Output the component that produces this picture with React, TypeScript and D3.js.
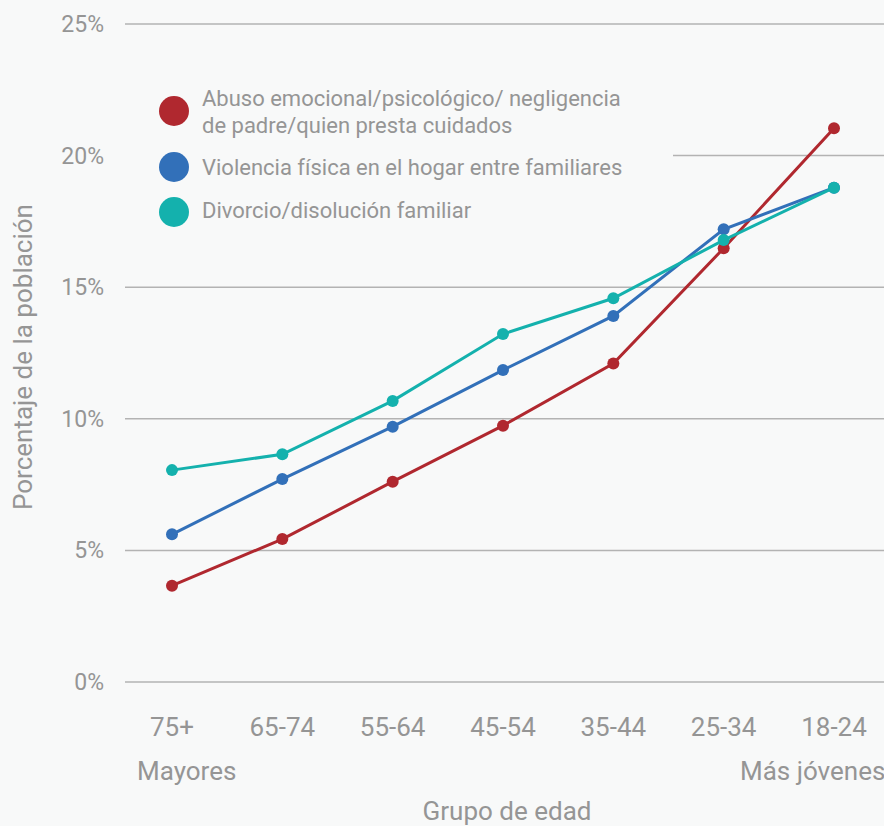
import React from "react";
import * as d3 from "d3";

const ageGroups = ["75+", "65-74", "55-64", "45-54", "35-44", "25-34", "18-24"];
const abuseValues = [3.66, 5.43, 7.61, 9.74, 12.1, 16.48, 21.04];
const violenceValues = [5.61, 7.71, 9.7, 11.85, 13.91, 17.2, 18.78];
const divorceValues = [8.05, 8.65, 10.68, 13.22, 14.58, 16.79, 18.78];
const yTicks = [0, 5, 10, 15, 20, 25];

const seriesNames = [
  ["Abuso emocional/psicológico/ negligencia", "de padre/quien presta cuidados"],
  ["Violencia física en el hogar entre familiares"],
  ["Divorcio/disolución familiar"],
];
const seriesColors = ["#b0282f", "#3270b9", "#14b1ad"];

const W = 884;
const H = 826;
const FONT = "Roboto, 'Noto Sans', sans-serif";
const BG = "#f8f9f9";
const TEXT = "#959595";

export default function App() {
  const x = d3.scalePoint<string>().domain(ageGroups).range([172, 834]);
  const y = d3.scaleLinear().domain([0, 25]).range([682, 24]);

  const series = [abuseValues, violenceValues, divorceValues];
  const line = d3
    .line<number>()
    .x((_, i) => x(ageGroups[i]) as number)
    .y((v) => y(v));

  const legendRows = [
    { cy: 111, lines: seriesNames[0], base: 106 },
    { cy: 167, lines: seriesNames[1], base: 175 },
    { cy: 212, lines: seriesNames[2], base: 218 },
  ];

  return (
    <svg
      width={W}
      height={H}
      style={{ position: "absolute", left: 0, top: 0, background: BG }}
      fontFamily={FONT}
    >
      <rect x={0} y={0} width={W} height={H} fill={BG} />
      {/* gridlines and y tick labels */}
      {yTicks.map((t) => (
        <g key={t}>
          <line x1={125} x2={W} y1={y(t)} y2={y(t)} stroke="#b3b3b3" strokeWidth={1.5} />
          <text
            x={104}
            y={y(t)}
            dy="0.35em"
            textAnchor="end"
            fontSize={23}
            fill={TEXT}
          >
            {t}%
          </text>
        </g>
      ))}

      {/* legend panel */}
      <rect x={125} y={70} width={548} height={170} fill={BG} />
      {legendRows.map((r, i) => (
        <g key={i}>
          <circle cx={174} cy={r.cy} r={15} fill={seriesColors[i]} />
          {r.lines.map((l, j) => (
            <text key={j} x={202} y={r.base + j * 27} fontSize={22} fill={TEXT}>
              {l}
            </text>
          ))}
        </g>
      ))}

      {/* series lines and markers */}
      {series.map((vals, i) => (
        <g key={i}>
          <path d={line(vals) || ""} fill="none" stroke={seriesColors[i]} strokeWidth={3} />
          {vals.map((v, k) => (
            <circle key={k} cx={x(ageGroups[k])} cy={y(v)} r={6} fill={seriesColors[i]} />
          ))}
        </g>
      ))}

      {/* x axis labels */}
      {ageGroups.map((g) => (
        <text key={g} x={x(g)} y={736} textAnchor="middle" fontSize={26} fill={TEXT}>
          {g}
        </text>
      ))}
      <text x={137} y={780} fontSize={26} fill={TEXT}>
        Mayores
      </text>
      <text x={740} y={780} fontSize={26} fill={TEXT}>
        Más jóvenes
      </text>
      <text x={507} y={820} textAnchor="middle" fontSize={26} fill={TEXT}>
        Grupo de edad
      </text>
      <text
        transform="translate(32,357) rotate(-90)"
        textAnchor="middle"
        fontSize={26}
        fill={TEXT}
      >
        Porcentaje de la población
      </text>
    </svg>
  );
}
